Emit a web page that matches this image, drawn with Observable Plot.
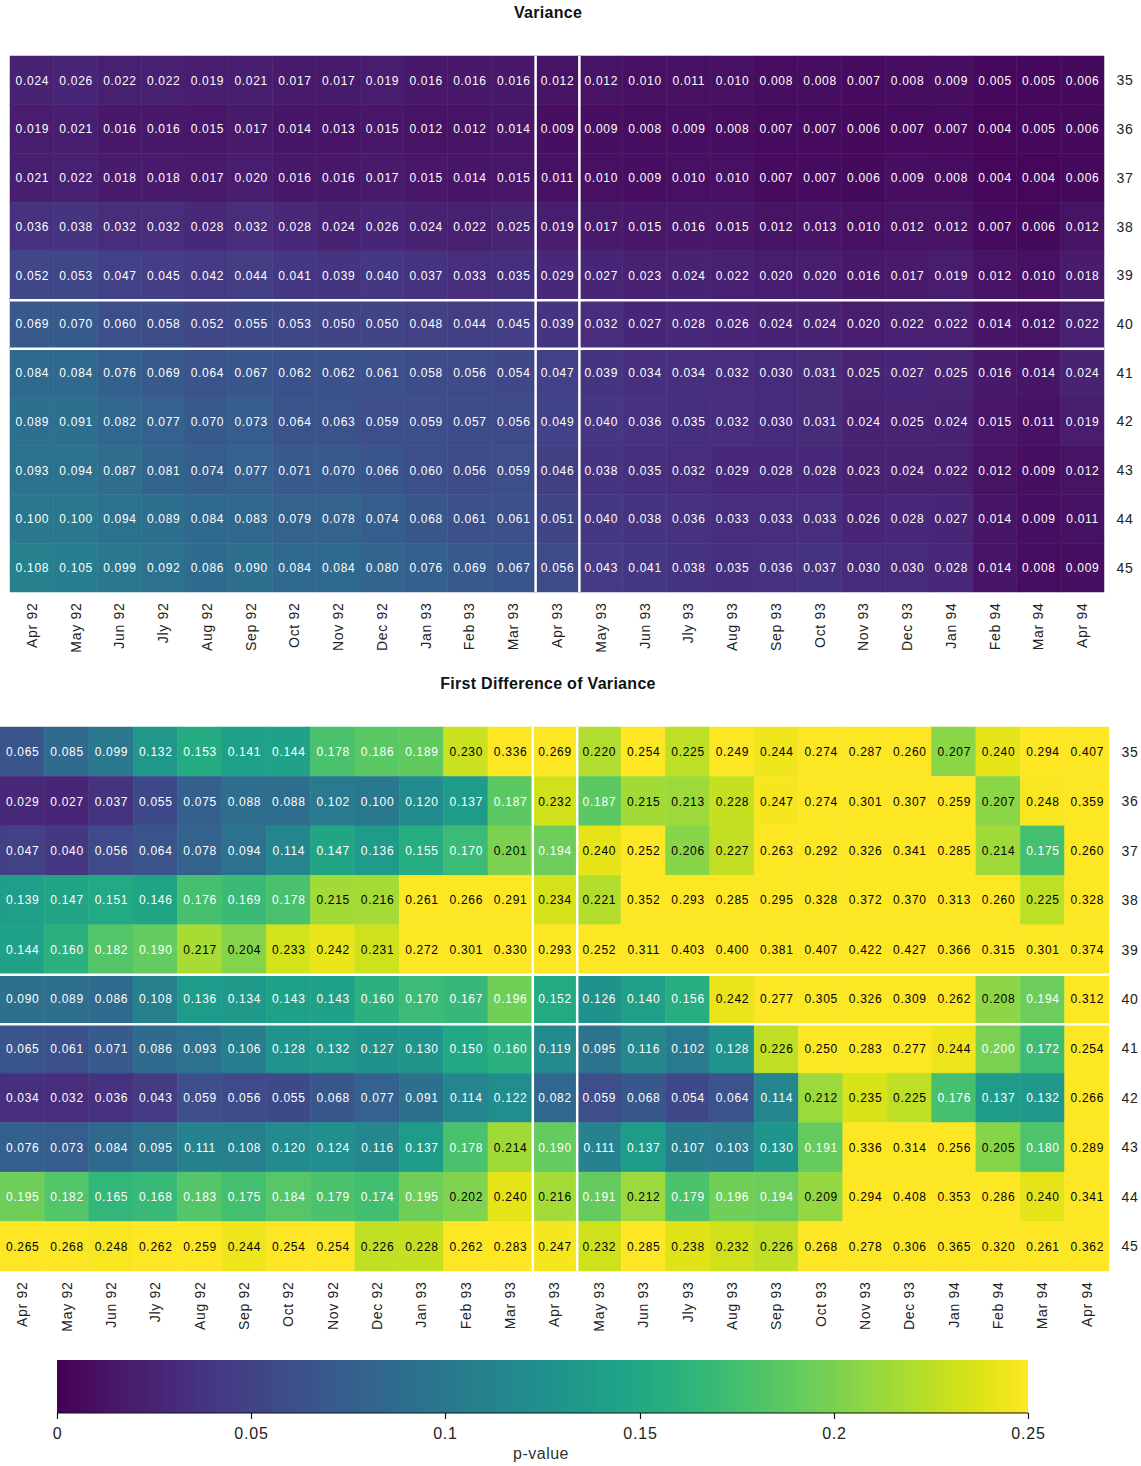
<!DOCTYPE html>
<html>
<head>
<meta charset="utf-8">
<script src="https://cdn.jsdelivr.net/npm/d3@7"></script>
<script src="https://cdn.jsdelivr.net/npm/@observablehq/plot@0.6"></script>
<style>
  body { margin: 0; background: #fff; font-family: "Liberation Sans", Arial, sans-serif; }
  #wrap { width: 1141px; }
  .title { width: 1096px; text-align: center; font-weight: bold; font-size: 16px; letter-spacing: 0.3px; color: #111; }
  #t1 { height: 26px; line-height: 26px; }
  #t2 { height: 28px; line-height: 28px; }
  .panel svg { display: block; }
  .panel svg text { letter-spacing: 0.7px; }
  .panel g[aria-label="text"] { letter-spacing: 0.9px; }
  #leg svg { display: block; }
  #leg svg text { letter-spacing: 0.8px; }
  #plabel { width: 1082px; height: 22px; line-height: 22px; text-align: center; font-size: 16px; color: #333; letter-spacing: 0.5px; }
</style>
</head>
<body>
<div id="wrap">
  <div class="title" id="t1">Variance</div>
  <div class="panel" id="p1"></div>
  <div class="title" id="t2">First Difference of Variance</div>
  <div class="panel" id="p2"></div>
  <div id="leg"></div>
  <div id="plabel">p-value</div>
</div>
<script>
const months = ["Apr 92","May 92","Jun 92","Jly 92","Aug 92","Sep 92","Oct 92","Nov 92","Dec 92","Jan 93","Feb 93","Mar 93",
  "Apr 93","May 93","Jun 93","Jly 93","Aug 93","Sep 93","Oct 93","Nov 93","Dec 93","Jan 94","Feb 94","Mar 94","Apr 94"];
const rows = [35, 36, 37, 38, 39, 40, 41, 42, 43, 44, 45];

const variance = [
  [0.024,0.026,0.022,0.022,0.019,0.021,0.017,0.017,0.019,0.016,0.016,0.016,0.012,0.012,0.010,0.011,0.010,0.008,0.008,0.007,0.008,0.009,0.005,0.005,0.006],
  [0.019,0.021,0.016,0.016,0.015,0.017,0.014,0.013,0.015,0.012,0.012,0.014,0.009,0.009,0.008,0.009,0.008,0.007,0.007,0.006,0.007,0.007,0.004,0.005,0.006],
  [0.021,0.022,0.018,0.018,0.017,0.020,0.016,0.016,0.017,0.015,0.014,0.015,0.011,0.010,0.009,0.010,0.010,0.007,0.007,0.006,0.009,0.008,0.004,0.004,0.006],
  [0.036,0.038,0.032,0.032,0.028,0.032,0.028,0.024,0.026,0.024,0.022,0.025,0.019,0.017,0.015,0.016,0.015,0.012,0.013,0.010,0.012,0.012,0.007,0.006,0.012],
  [0.052,0.053,0.047,0.045,0.042,0.044,0.041,0.039,0.040,0.037,0.033,0.035,0.029,0.027,0.023,0.024,0.022,0.020,0.020,0.016,0.017,0.019,0.012,0.010,0.018],
  [0.069,0.070,0.060,0.058,0.052,0.055,0.053,0.050,0.050,0.048,0.044,0.045,0.039,0.032,0.027,0.028,0.026,0.024,0.024,0.020,0.022,0.022,0.014,0.012,0.022],
  [0.084,0.084,0.076,0.069,0.064,0.067,0.062,0.062,0.061,0.058,0.056,0.054,0.047,0.039,0.034,0.034,0.032,0.030,0.031,0.025,0.027,0.025,0.016,0.014,0.024],
  [0.089,0.091,0.082,0.077,0.070,0.073,0.064,0.063,0.059,0.059,0.057,0.056,0.049,0.040,0.036,0.035,0.032,0.030,0.031,0.024,0.025,0.024,0.015,0.011,0.019],
  [0.093,0.094,0.087,0.081,0.074,0.077,0.071,0.070,0.066,0.060,0.056,0.059,0.046,0.038,0.035,0.032,0.029,0.028,0.028,0.023,0.024,0.022,0.012,0.009,0.012],
  [0.100,0.100,0.094,0.089,0.084,0.083,0.079,0.078,0.074,0.068,0.061,0.061,0.051,0.040,0.038,0.036,0.033,0.033,0.033,0.026,0.028,0.027,0.014,0.009,0.011],
  [0.108,0.105,0.099,0.092,0.086,0.090,0.084,0.084,0.080,0.076,0.069,0.067,0.056,0.043,0.041,0.038,0.035,0.036,0.037,0.030,0.030,0.028,0.014,0.008,0.009]
];

const firstDiff = [
  [0.065,0.085,0.099,0.132,0.153,0.141,0.144,0.178,0.186,0.189,0.230,0.336,0.269,0.220,0.254,0.225,0.249,0.244,0.274,0.287,0.260,0.207,0.240,0.294,0.407],
  [0.029,0.027,0.037,0.055,0.075,0.088,0.088,0.102,0.100,0.120,0.137,0.187,0.232,0.187,0.215,0.213,0.228,0.247,0.274,0.301,0.307,0.259,0.207,0.248,0.359],
  [0.047,0.040,0.056,0.064,0.078,0.094,0.114,0.147,0.136,0.155,0.170,0.201,0.194,0.240,0.252,0.206,0.227,0.263,0.292,0.326,0.341,0.285,0.214,0.175,0.260],
  [0.139,0.147,0.151,0.146,0.176,0.169,0.178,0.215,0.216,0.261,0.266,0.291,0.234,0.221,0.352,0.293,0.285,0.295,0.328,0.372,0.370,0.313,0.260,0.225,0.328],
  [0.144,0.160,0.182,0.190,0.217,0.204,0.233,0.242,0.231,0.272,0.301,0.330,0.293,0.252,0.311,0.403,0.400,0.381,0.407,0.422,0.427,0.366,0.315,0.301,0.374],
  [0.090,0.089,0.086,0.108,0.136,0.134,0.143,0.143,0.160,0.170,0.167,0.196,0.152,0.126,0.140,0.156,0.242,0.277,0.305,0.326,0.309,0.262,0.208,0.194,0.312],
  [0.065,0.061,0.071,0.086,0.093,0.106,0.128,0.132,0.127,0.130,0.150,0.160,0.119,0.095,0.116,0.102,0.128,0.226,0.250,0.283,0.277,0.244,0.200,0.172,0.254],
  [0.034,0.032,0.036,0.043,0.059,0.056,0.055,0.068,0.077,0.091,0.114,0.122,0.082,0.059,0.068,0.054,0.064,0.114,0.212,0.235,0.225,0.176,0.137,0.132,0.266],
  [0.076,0.073,0.084,0.095,0.111,0.108,0.120,0.124,0.116,0.137,0.178,0.214,0.190,0.111,0.137,0.107,0.103,0.130,0.191,0.336,0.314,0.256,0.205,0.180,0.289],
  [0.195,0.182,0.165,0.168,0.183,0.175,0.184,0.179,0.174,0.195,0.202,0.240,0.216,0.191,0.212,0.179,0.196,0.194,0.209,0.294,0.408,0.353,0.286,0.240,0.341],
  [0.265,0.268,0.248,0.262,0.259,0.244,0.254,0.254,0.226,0.228,0.262,0.283,0.247,0.232,0.285,0.238,0.232,0.226,0.268,0.278,0.306,0.365,0.320,0.261,0.362]
];

const legendTicks = [0, 0.05, 0.1, 0.15, 0.2, 0.25];
const colorDomain = [0, 0.25];
const highlightMonth = "Apr 93";
const highlightRow = 40;
const textThreshold = 0.2;

function toCells(matrix) {
  return rows.flatMap((r, ri) => matrix[ri].map((v, i) => ({i, r, v})));
}

function heatmap(matrix, layout) {
  const data = toCells(matrix);
  const hi = months.indexOf(highlightMonth);
  return Plot.plot({
    width: 1141,
    height: layout.height,
    marginLeft: layout.marginLeft,
    marginRight: layout.marginRight,
    marginTop: layout.marginTop,
    marginBottom: layout.marginBottom,
    style: {fontFamily: "Liberation Sans, Arial, sans-serif", fontSize: "14px", color: "#222", background: "white"},
    x: {
      domain: [0, months.length],
      ticks: months.map((m, i) => i + 0.5),
      tickFormat: d => months[Math.floor(d)],
      tickRotate: -90,
      tickSize: 0,
      tickPadding: 10,
      label: null
    },
    y: {
      domain: [rows[0] - 0.5, rows[rows.length - 1] + 0.5],
      reverse: true,
      ticks: rows,
      tickFormat: d => String(d),
      tickSize: 0,
      tickPadding: layout.yPad,
      axis: "right",
      label: null
    },
    color: {type: "linear", scheme: "viridis", domain: colorDomain, clamp: true},
    marks: [
      Plot.rect(data, {x1: d => d.i, x2: d => d.i + 1, y1: d => d.r - 0.5, y2: d => d.r + 0.5, fill: "v", stroke: "v", strokeWidth: 0.5}),
      Plot.text(data, {filter: d => d.v <= textThreshold, x: d => d.i + 0.5, y: "r", text: d => d.v.toFixed(3), fill: "white", fontSize: 12}),
      Plot.text(data, {filter: d => d.v > textThreshold, x: d => d.i + 0.5, y: "r", text: d => d.v.toFixed(3), fill: "black", fontSize: 12}),
      Plot.ruleX([hi, hi + 1], {stroke: "white", strokeWidth: 2.5}),
      Plot.ruleY([highlightRow - 0.5, highlightRow + 0.5], {stroke: "white", strokeWidth: 2.5})
    ]
  });
}

document.getElementById("p1").appendChild(heatmap(variance, {height: 644, marginLeft: 10, marginRight: 37, marginTop: 30, marginBottom: 78, yPad: 12}));
document.getElementById("p2").appendChild(heatmap(firstDiff, {height: 643, marginLeft: 0, marginRight: 32, marginTop: 29, marginBottom: 70, yPad: 12}));

const leg = Plot.legend({
  color: {type: "linear", scheme: "viridis", domain: colorDomain},
  width: 1141,
  height: 102,
  marginTop: 19,
  marginBottom: 30,
  marginLeft: 57,
  marginRight: 113,
  ticks: legendTicks,
  tickFormat: d => String(+(+d).toFixed(2)),
  tickSize: 6,
  label: null,
  style: {fontFamily: "Liberation Sans, Arial, sans-serif", fontSize: "16px", color: "#222", background: "white"}
});
const legSel = d3.select(leg);
legSel.selectAll(".tick line").attr("y1", 0).attr("y2", 6).attr("stroke", "#111").attr("stroke-width", 1.2);
legSel.selectAll(".tick text").attr("y", 15);
// baseline under the ramp, spanning the first to last tick positions given by the legend's axis
const tickXs = [];
legSel.selectAll(".tick").each(function() {
  const m = /translate\(([-\d.]+)/.exec(this.getAttribute("transform"));
  if (m) tickXs.push(+m[1]);
});
if (tickXs.length) {
  const axisG = d3.select(legSel.selectAll(".tick").node().parentNode);
  axisG.insert("line", ":first-child")
    .attr("x1", d3.min(tickXs)).attr("x2", d3.max(tickXs))
    .attr("y1", 0).attr("y2", 0)
    .attr("stroke", "#111").attr("stroke-width", 1.2);
}
document.getElementById("leg").appendChild(leg);
</script>
</body>
</html>
